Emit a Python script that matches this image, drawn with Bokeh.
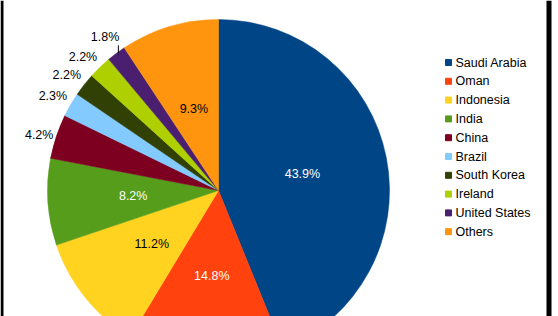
import math
from bokeh.plotting import figure
from bokeh.models import Range1d, BoxAnnotation, ColumnDataSource
from bokeh.core.properties import value
from bokeh.embed import file_html
from bokeh.resources import INLINE

# ---- data ----
countries = ["Saudi Arabia", "Oman", "Indonesia", "India", "China", "Brazil",
             "South Korea", "Ireland", "United States", "Others"]
shares = [43.9, 14.8, 11.2, 8.2, 4.2, 2.3, 2.2, 2.2, 1.8, 9.3]
share_labels = ["43.9%", "14.8%", "11.2%", "8.2%", "4.2%", "2.3%", "2.2%", "2.2%", "1.8%", "9.3%"]
colors = ["#004586", "#ff420e", "#ffd320", "#579d1c", "#7e0021", "#83caff",
          "#314004", "#aecf00", "#4b1f6f", "#ff950e"]

# ---- layout ----
W, H = 558, 316
CX, CY = 218, H - 190
R = 171
FONT = value("Liberation Sans")
FS = "12.5px"

p = figure(width=W, height=H, x_range=Range1d(0, W), y_range=Range1d(0, H),
           output_backend="svg", toolbar_location=None,
           x_axis_location=None, y_axis_location=None, min_border=0,
           outline_line_color=None, background_fill_color="white",
           border_fill_color="white")
p.grid.visible = False

total = sum(shares)
starts, ends, mids = [], [], []
c = 0.0
for s in shares:
    c0 = c
    c1 = c + s / total
    starts.append(math.pi / 2 - 2 * math.pi * c1)
    ends.append(math.pi / 2 - 2 * math.pi * c0)
    mids.append(2 * math.pi * (c0 + c1) / 2)  # clockwise from top
    c = c1

src = ColumnDataSource(dict(start=starts, end=ends, color=colors))
p.wedge(x=CX, y=CY, radius=R, start_angle="start", end_angle="end",
        fill_color="color", line_color="color", line_width=0.5, source=src)


def lum(hexc):
    def lin(v):
        return v / 12.92 if v <= 0.04045 else ((v + 0.055) / 1.055) ** 2.4
    r, g, b = (lin(int(hexc[i:i + 2], 16) / 255) for i in (1, 3, 5))
    return 0.2126 * r + 0.7152 * g + 0.0722 * b


# inside labels
ix, iy, it, ic = [], [], [], []
# outside labels
ox, oy, ot, oal, obl = [], [], [], [], []
prev_bottom = None
for i, s in enumerate(shares):
    th = mids[i]
    sx, sy = math.sin(th), math.cos(th)
    if s >= 5:
        ix.append(CX + 0.5 * R * sx)
        iy.append(CY + 0.5 * R * sy)
        it.append(share_labels[i])
        ic.append("white" if lum(colors[i]) < 0.35 else "black")
    else:
        rr = R + 4
        x = CX + rr * sx
        y = CY + rr * sy
        align = "right" if sx < 0 else "left"
        if abs(sy) < 0.4:
            base = "middle"
            y = CY + (R + 3) * sy
            x = CX + (R + 3) * sx
        else:
            base = "bottom" if sy > 0 else "top"
        if base == "bottom" and prev_bottom is not None and (y - prev_bottom) < 15:
            ex, ey = CX + R * sx, CY + R * sy
            y = prev_bottom + 20
            x = ex + 3
            p.segment(x0=[ex + 2], y0=[ey], x1=[ex + 2], y1=[y - 1],
                      line_color="black", line_width=1)
        if base == "bottom":
            prev_bottom = y
        ox.append(x); oy.append(y); ot.append(share_labels[i])
        oal.append(align); obl.append(base)

p.text(x=ix, y=iy, text=it, text_color=ic, text_align="center",
       text_baseline="middle", text_font=FONT, text_font_size=FS)
for x, y, t, a, b in zip(ox, oy, ot, oal, obl):
    p.text(x=[x], y=[y], text=[t], text_color="black", text_align=a,
           text_baseline=b, text_font=FONT, text_font_size=FS)

# legend
LX, LY0, LDY = 448, 62, 18.8
ly = [H - (LY0 + i * LDY) for i in range(len(countries))]
p.rect(x=[LX] * len(countries), y=ly, width=6, height=6,
       fill_color=colors, line_color=colors)
p.text(x=[LX + 7] * len(countries), y=ly, text=countries, text_color="black",
       text_align="left", text_baseline="middle", text_font=FONT,
       text_font_size=FS)

# dark frame strips at the sides
p.add_layout(BoxAnnotation(left=0, right=3, fill_color="black", fill_alpha=1,
                           line_color=None))
p.add_layout(BoxAnnotation(left=546, right=551, fill_color="black", fill_alpha=1,
                           line_color=None))

open("out.html", "w").write(file_html(p, INLINE))
